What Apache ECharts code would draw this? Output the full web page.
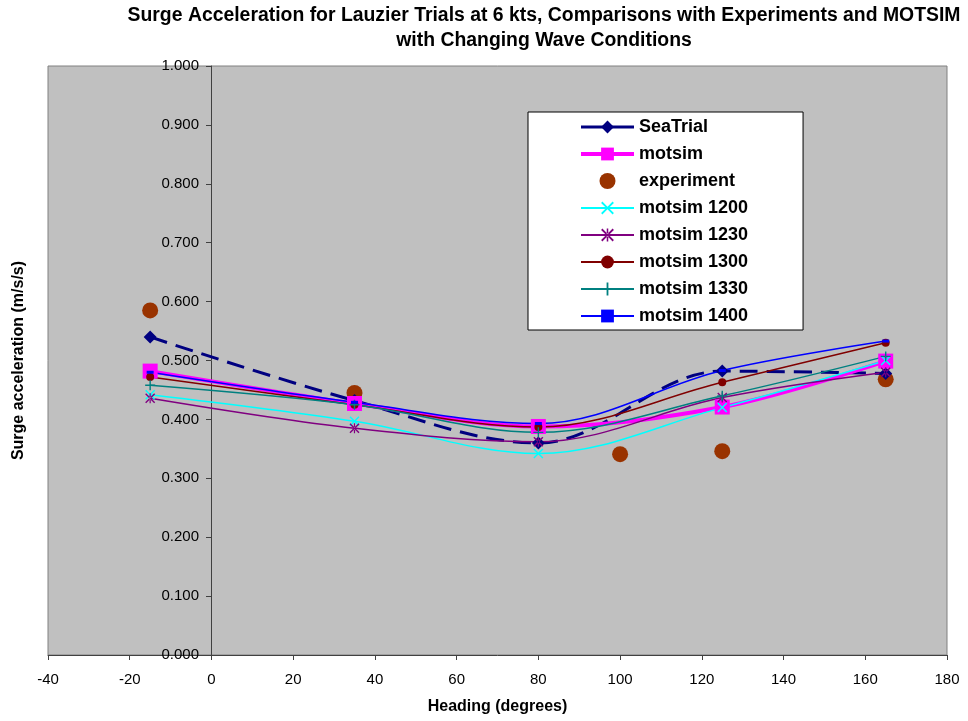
<!DOCTYPE html>
<html>
<head>
<meta charset="utf-8">
<script src="https://cdn.jsdelivr.net/npm/echarts@6/dist/echarts.min.js"></script>
<style>
  html, body { margin: 0; padding: 0; background: #fff; }
  #main { width: 968px; height: 721px; }
</style>
</head>
<body>
<div id="main"></div>
<script>
// headings (degrees) for the simulation / sea trial points
var headings = [-15, 35, 80, 125, 165];
var expHeadings = [-15, 35, 100, 125, 165];

var seaTrial   = [0.540, 0.432, 0.360, 0.482, 0.478];
var motsim     = [0.482, 0.427, 0.388, 0.421, 0.499];
var experiment = [0.585, 0.445, 0.341, 0.346, 0.468];
var m1200      = [0.442, 0.397, 0.342, 0.420, 0.500];
var m1230      = [0.436, 0.385, 0.362, 0.437, 0.480];
var m1300      = [0.472, 0.425, 0.387, 0.463, 0.530];
var m1330      = [0.458, 0.425, 0.378, 0.440, 0.507];
var m1400      = [0.480, 0.429, 0.393, 0.483, 0.533];

var xTicks = { min: -40, max: 180, interval: 20 };
var yTicks = { min: 0, max: 1, interval: 0.1 };

var FONT = 'Liberation Sans, Arial, sans-serif';

// marker shapes
var xMark = 'path://M0,1L1,0L5,4L9,0L10,1L6,5L10,9L9,10L5,6L1,10L0,9L4,5Z';
var starMark = 'path://M0,1L1,0L5,4L9,0L10,1L6,5L10,9L9,10L5,6L1,10L0,9L4,5Z M4.4,0L4.4,10L5.6,10L5.6,0Z';
var plusMark = 'path://M4.3,0L5.7,0L5.7,4.3L10,4.3L10,5.7L5.7,5.7L5.7,10L4.3,10L4.3,5.7L0,5.7L0,4.3L4.3,4.3Z';

function pairs(xs, ys) {
    return xs.map(function (x, i) { return [x, ys[i]]; });
}

function simLine(name, data, color, symbol, size) {
    return {
        name: name,
        type: 'line',
        smooth: 0.35,
        data: pairs(headings, data),
        symbol: symbol,
        symbolSize: size,
        showAllSymbol: true,
        lineStyle: { color: color, width: 1.5 },
        itemStyle: { color: color, borderColor: color, borderWidth: 0 }
    };
}

var myChart = echarts.init(document.getElementById('main'));

// y axis sits on x = 0: grid left 48px, x=0 is 163px further right
var yAxisShift = -163;

var option = {
    animation: false,
    backgroundColor: '#ffffff',
    graphic: [{
        type: 'text',
        x: 544,
        y: 28,
        style: {
            text: 'Surge Acceleration for Lauzier Trials at 6 kts, Comparisons with Experiments and MOTSIM\nwith Changing Wave Conditions',
            font: 'bold 19.4px ' + FONT,
            fill: '#000',
            textAlign: 'center',
            textVerticalAlign: 'middle',
            lineHeight: 25
        }
    }],
    grid: {
        left: 48,
        right: 21,
        top: 66,
        bottom: 66,
        outerBoundsMode: 'none',
        containLabel: false,
        show: true,
        backgroundColor: '#c0c0c0',
        borderColor: '#808080',
        borderWidth: 1
    },
    legend: {
        orient: 'vertical',
        left: 528,
        top: 112,
        padding: [6, 55, 5, 51],
        backgroundColor: '#ffffff',
        borderColor: '#000000',
        borderWidth: 1,
        itemWidth: 53,
        itemHeight: 16,
        itemGap: 9,
        textStyle: { fontFamily: FONT, fontWeight: 'bold', fontSize: 18, color: '#000', lineHeight: 18 },
        data: [
            { name: 'SeaTrial', lineStyle: { type: 'solid', width: 3, color: '#000080' } },
            { name: 'motsim', lineStyle: { width: 4, color: '#ff00ff' } },
            'experiment', 'motsim 1200', 'motsim 1230',
            'motsim 1300', 'motsim 1330', 'motsim 1400'
        ]
    },
    xAxis: {
        type: 'value',
        min: xTicks.min,
        max: xTicks.max,
        interval: xTicks.interval,
        name: 'Heading (degrees)',
        nameLocation: 'middle',
        nameGap: 44,
        nameTextStyle: { fontFamily: FONT, fontWeight: 'bold', fontSize: 16, color: '#000' },
        axisLine: { onZero: true, lineStyle: { color: '#404040', width: 1 } },
        axisTick: { show: true, length: 5, inside: false, lineStyle: { color: '#404040' } },
        axisLabel: { margin: 17, fontFamily: FONT, fontSize: 15, color: '#000' },
        splitLine: { show: false }
    },
    yAxis: {
        type: 'value',
        min: yTicks.min,
        max: yTicks.max,
        interval: yTicks.interval,
        offset: yAxisShift,
        name: 'Surge acceleration (m/s/s)',
        nameLocation: 'middle',
        nameGap: 184,
        nameRotate: 90,
        nameTextStyle: { fontFamily: FONT, fontWeight: 'bold', fontSize: 16, color: '#000' },
        axisLine: { show: true, onZero: false, lineStyle: { color: '#404040', width: 1 } },
        axisTick: { show: true, length: 5, inside: false, lineStyle: { color: '#404040' } },
        axisLabel: {
            margin: 12,
            fontFamily: FONT,
            fontSize: 15,
            color: '#000',
            formatter: function (v) { return v.toFixed(3); }
        },
        splitLine: { show: false }
    },
    series: [
        {
            name: 'SeaTrial',
            type: 'line',
            smooth: 0.35,
            data: pairs(headings, seaTrial),
            symbol: 'diamond',
            symbolSize: 13,
            lineStyle: { color: '#000080', width: 3, type: [18, 9] },
            itemStyle: { color: '#000080' }
        },
        {
            name: 'motsim',
            type: 'line',
            smooth: 0.35,
            data: pairs(headings, motsim),
            symbol: 'rect',
            symbolSize: 15,
            lineStyle: { color: '#ff00ff', width: 4 },
            itemStyle: { color: '#ff00ff' }
        },
        {
            name: 'experiment',
            type: 'scatter',
            data: pairs(expHeadings, experiment),
            symbol: 'circle',
            symbolSize: 16,
            itemStyle: { color: '#993300', opacity: 1 }
        },
        simLine('motsim 1200', m1200, '#00ffff', xMark, 10),
        simLine('motsim 1230', m1230, '#800080', starMark, 10),
        simLine('motsim 1300', m1300, '#800000', 'circle', 8),
        simLine('motsim 1330', m1330, '#008080', plusMark, 10),
        simLine('motsim 1400', m1400, '#0000ff', 'rect', [7, 3])
    ]
};

window.onresize = myChart.resize;
myChart.setOption(option);
</script>
</body>
</html>
